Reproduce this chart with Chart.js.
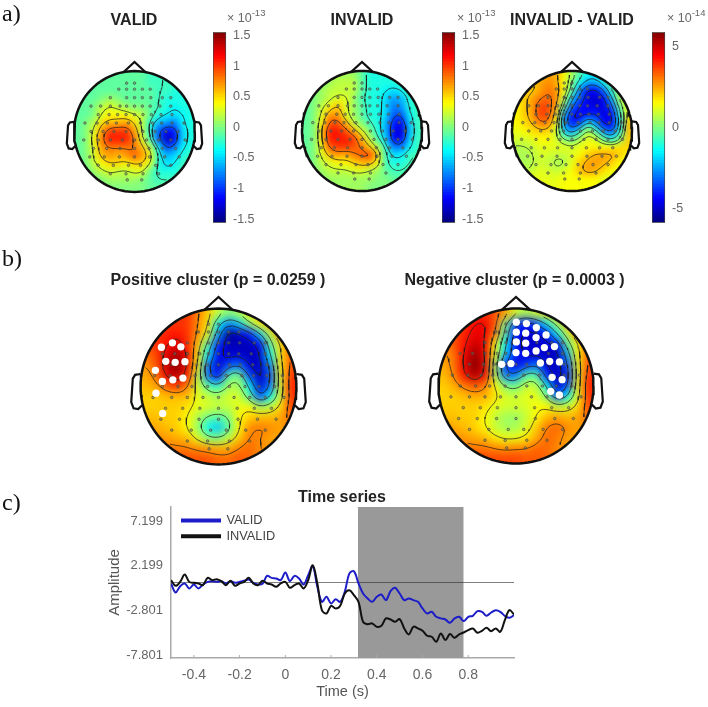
<!DOCTYPE html>
<html><head><meta charset="utf-8">
<script src="https://cdn.jsdelivr.net/npm/chart.js@4/dist/chart.umd.js"></script>
<style>
html,body{margin:0;padding:0;background:#fff;overflow:hidden}
#page{position:relative;width:708px;height:707px;font-family:"Liberation Sans",Arial,sans-serif;overflow:hidden;filter:blur(0.35px)}
.abs{position:absolute}
canvas{display:block}
.t{position:absolute;white-space:nowrap;font-weight:bold;color:#222;transform:translateX(-50%)}
.p{position:absolute;font-family:"Liberation Serif",serif;font-size:24px;color:#111}
.e{position:absolute;white-space:nowrap;font-size:12.5px;color:#666}
.e sup{font-size:9.5px;line-height:0;position:relative;top:-1px;vertical-align:super}
</style></head><body><div id="page"></div>
<script>
// ---- time series (amplitude at 0.02 s steps) ----
const timeStart=-0.5, timeStep=0.02;
const validSeries=[-0.11,-1.12,-0.41,-0.11,-0.67,-0.22,-0.67,-0.22,0.07,0.15,0.07,0.15,-0.11,0.15,-0.04,0.07,0.19,0.33,-0.04,-0.22,-0.15,0.74,0.52,0.45,0.26,1.12,0.15,0.74,0.45,-0.22,0.82,1.82,-0.48,-2.16,-1.60,-2.34,-1.86,-2.16,-1.04,1.00,1.26,-0.11,-1.23,-1.78,-2.16,-1.60,-1.34,-1.97,-0.97,-0.59,-1.23,-1.97,-1.78,-1.97,-2.16,-2.90,-3.46,-3.27,-3.83,-4.01,-4.13,-4.50,-4.01,-3.83,-4.31,-3.83,-3.72,-3.20,-3.27,-3.72,-3.35,-3.09,-3.27,-3.72,-3.94,-3.64];
const invalidSeries=[0.26,-0.37,0.07,0.89,0.07,-0.04,-0.11,-0.30,0.52,0.26,0.37,0.15,-0.30,0.19,-0.37,-0.11,0.07,0.52,-0.11,-0.30,0.19,-0.11,-0.22,-0.48,-0.11,0.07,-0.59,-0.30,-0.11,-0.67,0.26,1.93,-0.11,-3.09,-3.46,-2.60,-2.90,-2.60,-1.23,-0.86,-1.41,-2.16,-4.39,-4.65,-4.57,-4.94,-4.83,-4.01,-4.13,-4.39,-4.09,-5.13,-5.80,-4.94,-5.13,-5.39,-5.95,-6.06,-6.62,-5.69,-6.43,-5.76,-6.17,-5.80,-5.58,-5.32,-5.13,-5.61,-5.39,-5.06,-5.43,-5.13,-5.50,-4.20,-3.09,-3.57];
const xTicks=[-0.4,-0.2,0,0.2,0.4,0.6,0.8];
const yTicks=[-7.801,-2.801,2.199,7.199];
const shadeWindow=[0.317,0.78];
const seriesNames=['VALID','INVALID'];

// ---- topographies, 15 x 15 cells, head box -1..1 ----
const validGrid=[
[-1,-1,-1,-1,-1,-1,-1,-1,-1,-2,-2,-2,-2,-2,-2],
[-1,-1,-1,-1,-1,-1,-1,-1,-1,-2,-2,-2,-2,-2,-2],
[-1,-1,-1,-1,-1,-1,-1,-1,-1,-1,-2,-2,-3,-3,-3],
[-1,-1,-1,0,1,0,-1,-1,-1,-1,-2,-3,-3,-3,-3],
[-1,-1,0,2,3,2,1,0,0,-1,-2,-3,-4,-3,-3],
[-1,-1,0,3,4,4,4,3,2,-1,-3,-4,-5,-4,-3],
[-1,0,2,5,6,6,7,5,2,-3,-6,-7,-8,-4,-3],
[-1,0,3,7,10,10,10,7,2,-3,-9,-12,-11,-5,-3],
[-1,0,4,8,11,11,11,8,3,-2,-9,-14,-12,-5,-3],
[-1,0,3,7,8,8,8,8,6,2,-4,-10,-8,-4,-3],
[-1,0,3,6,7,6,7,9,7,4,-3,-6,-5,-3,-2],
[-1,0,2,4,5,5,4,5,5,3,-3,-5,-4,-2,-2],
[-1,-1,1,2,3,2,2,3,3,-1,-3,-3,-3,-2,-2],
[-1,-1,0,0,1,1,1,1,0,-1,-2,-2,-2,-2,-2],
[-1,-1,-1,0,0,0,0,0,0,-1,-1,-1,-1,-1,-1]];
const invalidGrid=[
[-1,-1,0,1,1,1,1,-1,-3,-3,-3,-3,-2,-2,-2],
[-1,-1,0,1,2,2,2,-1,-3,-3,-3,-3,-2,-2,-2],
[-1,0,1,2,2,2,2,-1,-3,-3,-4,-5,-4,-2,-2],
[-1,0,1,2,3,3,1,-2,-3,-3,-5,-7,-6,-3,-2],
[-1,0,2,4,6,3,1,-1,-3,-3,-5,-8,-7,-3,-2],
[-1,0,3,7,7,3,1,-1,-3,-3,-5,-9,-9,-4,-2],
[-1,0,4,9,9,6,2,0,-2,-3,-6,-11,-12,-5,-2],
[-1,0,5,11,11,9,6,3,0,-3,-6,-12,-13,-6,-2],
[-1,0,5,11,11,11,10,6,2,-2,-5,-12,-12,-5,-2],
[-1,0,4,9,10,10,9,8,5,2,-3,-8,-8,-4,-2],
[-1,0,3,6,7,6,8,9,10,5,-2,-5,-4,-2,-2],
[-1,0,2,3,4,4,5,6,6,4,-2,-3,-3,-2,-1],
[-1,0,1,2,2,2,3,3,2,1,-1,-2,-2,-1,-1],
[-1,0,0,1,1,1,1,1,1,0,0,-1,-1,-1,-1],
[-1,-1,0,0,1,1,1,1,0,0,0,0,-1,-1,-1]];
const differenceGrid=[
[20,20,20,20,25,25,15,5,-5,-15,-15,-5,5,5,5],
[20,20,20,25,28,25,15,0,-15,-25,-25,-15,0,5,5],
[20,20,20,25,30,28,15,-5,-28,-45,-45,-32,-10,5,10],
[15,20,25,30,33,28,8,-20,-35,-47,-50,-45,-22,5,15],
[15,20,25,36,36,25,-2,-32,-42,-45,-47,-47,-35,-5,15],
[15,20,25,36,36,20,-22,-42,-44,-42,-40,-48,-44,-12,15],
[15,18,22,30,30,15,-25,-42,-38,-15,-28,-45,-46,-18,22],
[12,15,18,20,20,10,-18,-28,-12,7,-8,-28,-36,-12,22],
[10,10,12,15,15,10,0,-5,5,12,10,-5,-14,0,20],
[6,6,8,12,12,12,12,10,12,15,15,15,15,18,20],
[5,5,6,10,10,8,8,10,15,20,24,25,25,20,15],
[5,5,6,9,8,5,5,12,20,25,26,24,20,15,12],
[6,6,8,12,10,8,10,14,22,26,24,18,15,12,12],
[10,10,12,12,12,12,14,14,14,15,15,12,10,10,8],
[10,10,12,12,12,12,14,14,14,14,14,10,8,8,8]];
const positiveGrid=[
[38,38,38,38,38,30,20,8,0,5,15,25,30,30,30],
[38,38,38,38,38,28,18,-15,-30,-20,0,15,25,30,30],
[38,38,40,42,38,28,12,-25,-58,-50,-42,-20,8,28,30],
[35,38,42,48,40,22,-5,-40,-52,-52,-52,-45,-5,18,30],
[30,36,46,54,44,18,-15,-45,-50,-48,-52,-50,-15,18,33],
[26,34,50,58,46,15,-30,-50,-35,-30,-48,-52,-28,15,35],
[24,30,46,52,40,8,-30,-45,-5,0,-35,-52,-35,12,38],
[22,25,32,38,30,10,-5,-10,5,5,-15,-50,-30,10,40],
[20,20,22,22,22,12,8,5,10,10,-5,-35,-15,10,38],
[20,20,20,20,18,12,10,8,8,12,15,5,8,18,36],
[22,22,20,20,15,6,-2,-5,0,15,20,22,22,25,32],
[26,24,22,20,15,3,-15,-22,-5,15,28,30,28,25,28],
[30,28,26,24,22,12,2,0,8,20,30,28,25,25,26],
[34,32,30,30,30,28,26,24,24,30,32,28,26,26,26],
[38,35,35,35,35,35,35,32,32,34,32,28,28,28,28]];
const negativeGrid=[
[30,32,34,36,38,35,25,10,5,10,18,25,30,30,30],
[30,34,38,44,46,34,0,-35,-42,-35,-15,5,25,30,30],
[30,34,40,46,46,30,-5,-42,-50,-48,-42,-15,8,28,30],
[28,34,42,50,46,15,-15,-42,-50,-50,-50,-45,-5,15,32],
[26,30,44,56,46,12,-20,-40,-48,-48,-50,-52,-25,15,33],
[24,30,46,60,48,5,-38,-48,-38,-30,-48,-52,-35,12,35],
[22,28,42,54,44,5,-30,-30,-5,-5,-40,-52,-40,10,38],
[20,24,30,34,30,15,0,-3,8,8,-15,-50,-35,12,40],
[20,20,22,24,24,18,10,8,12,12,0,-35,-15,12,38],
[20,20,20,20,18,12,10,10,10,14,15,8,10,18,36],
[22,22,20,20,15,8,4,3,8,15,22,25,22,25,32],
[26,24,22,20,15,8,4,4,10,20,30,32,28,25,28],
[30,28,26,24,22,16,12,12,16,24,32,30,25,25,26],
[34,32,30,30,30,28,26,28,28,32,32,28,26,26,26],
[38,36,36,36,36,36,36,36,34,34,32,28,28,28,28]];

// sensor rows: [y, x, x, ...]
const sensorRows=[
[.80,-.13,0],[.70,-.26,-.13,0,.13,.26],[.56,-.4,-.13,0,.13,.27,.46,.6],
[.42,-.72,-.56,-.4,-.24,-.13,0,.13,.26,.42,.6],[.28,-.6,-.42,-.28,-.14,0,.14,.28,.44,.62],
[.14,-.82,-.62,-.45,-.3,-.1,.1,.3,.45,.62,.82],[0,-.72,-.52,-.34,-.14,.14,.34,.52,.72],
[-.14,-.84,-.6,-.4,-.2,0,.2,.4,.6,.84],[-.28,-.68,-.46,-.24,0,.24,.46,.68],
[-.42,-.74,-.5,-.25,0,.25,.5,.74],[-.56,-.6,-.35,-.1,.1,.35,.6],[-.70,-.4,-.14,.14,.4],[-.8,-.12,.12]];
const positiveCluster=[[-.733,.504],[-.591,.560],[-.483,.509],[-.677,.323],[-.556,.310],[-.431,.319],[-.810,.207],[-.720,.065],[-.586,.086],[-.457,.108],[-.802,-.086],[-.716,-.345]];
const negativeCluster=[[.004,.823],[.134,.806],[.263,.754],[.004,.694],[.125,.681],[.259,.625],[.388,.659],[.004,.569],[.125,.552],[.366,.496],[.496,.509],[0,.431],[.125,.422],[.259,.453],[-.185,.280],[-.065,.289],[.315,.297],[.435,.319],[.560,.310],[.466,.112],[.595,.082],[.448,-.069],[.560,-.116]];
const noseOutline=[[-.18,.985],[0,1.15],[.18,.985]];
const earOutline=[[1.0,.16],[1.07,.15],[1.1,.1],[1.12,-.2],[1.09,-.28],[1.03,-.29],[.98,-.24]];

const page=document.getElementById('page');
const clamp=v=>Math.max(0,Math.min(1,v));
function jet(t){const c=f=>Math.round(255*clamp(f));
  return `rgb(${c(Math.min(4*t-1.5,-4*t+4.5))},${c(Math.min(4*t-.5,-4*t+3.5))},${c(Math.min(4*t+.5,-4*t+2.5))})`;}
function mk(left,top,w,h,parent){const c=document.createElement('canvas');c.width=w;c.height=h;
  c.style.cssText=`position:absolute;left:${left}px;top:${top}px;width:${w}px;height:${h}px`;(parent||page).appendChild(c);return c.getContext('2d');}
const base={animation:false,responsive:false,devicePixelRatio:1,events:[],layout:{autoPadding:false},plugins:{legend:{display:false},tooltip:{enabled:false},title:{display:false}}};
const hidden={type:'linear',min:-1.2,max:1.2,display:false};

function contourSegments(grid,levels){
  const k=3,n=grid.length,m=(n-1)*k+1;
  let f=[];
  for(let j=0;j<m;j++){f.push([]);for(let i=0;i<m;i++){
    const a=i/k,b=j/k,a0=Math.min(n-2,Math.floor(a)),b0=Math.min(n-2,Math.floor(b)),u=a-a0,v=b-b0;
    f[j].push((1-u)*(1-v)*grid[b0][a0]+u*(1-v)*grid[b0][a0+1]+(1-u)*v*grid[b0+1][a0]+u*v*grid[b0+1][a0+1]);}}
  for(let p=0;p<4;p++){const g=f.map(r=>r.slice());
    for(let j=0;j<m;j++)for(let i=0;i<m;i++){let s=0,w=0;
      for(let dj=-1;dj<=1;dj++)for(let di=-1;di<=1;di++){const jj=j+dj,ii=i+di;if(jj<0||ii<0||jj>=m||ii>=m)continue;
        const q=(2-Math.abs(di))*(2-Math.abs(dj));s+=q*f[jj][ii];w+=q;}
      g[j][i]=s/w;}
    f=g;}
  const X=i=>-1+(i/k+.5)*2/15,Y=j=>1-(j/k+.5)*2/15,out=[];
  for(const L of levels)for(let j=0;j<m-1;j++)for(let i=0;i<m-1;i++){
    const c=[f[j][i],f[j][i+1],f[j+1][i+1],f[j+1][i]],P=[[i,j],[i+1,j],[i+1,j+1],[i,j+1]],hits=[];
    for(let e=0;e<4;e++){const a=c[e],b=c[(e+1)%4];if((a<L)!==(b<L)){const t=(L-a)/(b-a),p=P[e],q=P[(e+1)%4];
      hits.push({x:X(p[0]+t*(q[0]-p[0])),y:Y(p[1]+t*(q[1]-p[1]))});}}
    for(let h=0;h+1<hits.length;h+=2){const A=hits[h],B=hits[h+1];
      if(A.x*A.x+A.y*A.y<.95&&B.x*B.x+B.y*B.y<.95)out.push(A,B,{x:NaN,y:NaN});}
  }
  return out;
}

function topo(o){
  const size=Math.round(2.4*o.r),left=o.cx-size/2,top=o.cy-size/2,cell=2*o.r/15;
  const wrap=document.createElement('div');wrap.className='abs';
  wrap.style.cssText=`position:absolute;left:${left}px;top:${top}px;width:${size}px;height:${size}px;clip-path:circle(${o.r}px at 50% 50%)`;
  page.appendChild(wrap);
  const cells=[];
  for(let j=-3;j<18;j++)for(let i=-3;i<18;i++){
    const jj=Math.max(0,Math.min(14,j)),ii=Math.max(0,Math.min(14,i));
    cells.push({x:-1+(i+.5)*2/15,y:1-(j+.5)*2/15,v:o.grid[jj][ii]});}
  const hctx=mk(0,0,size,size,wrap);
  hctx.canvas.style.filter=`blur(${(cell*.47).toFixed(1)}px)`;
  new Chart(hctx,{type:'scatter',data:{datasets:[{data:cells,clip:false,
    pointStyle:'rect',borderWidth:0,
    pointBorderWidth:0,
    pointRadius:c=>{const s=c.chart.scales.x;return (s.getPixelForValue(2/15)-s.getPixelForValue(0))*.76;},
    pointBackgroundColor:c=>jet(clamp((c.raw.v/o.clim+1)/2))}]},
    options:{...base,scales:{x:hidden,y:hidden}}});
  const circle=[];for(let a=0;a<=120;a++)circle.push({x:Math.cos(a*Math.PI/60),y:Math.sin(a*Math.PI/60)});
  const sensors=[];sensorRows.forEach(r=>r.slice(1).forEach(x=>sensors.push({x,y:r[0]})));
  const line=(pts,w)=>({data:pts,showLine:true,borderColor:'#111',borderWidth:w,pointRadius:0,tension:0,fill:false,clip:false});
  const ds=[];
  if(o.cluster)ds.push({data:o.cluster.map(p=>({x:p[0],y:p[1]})),pointRadius:o.r*.047,backgroundColor:'#fff',borderWidth:0});
  ds.push({data:sensors,pointRadius:1.3,backgroundColor:'rgba(110,120,90,.5)',borderColor:'#444',borderWidth:.6});
  ds.push({data:contourSegments(o.grid,o.levels),showLine:true,spanGaps:false,borderColor:'rgba(30,30,30,.8)',borderWidth:.9,pointRadius:0,tension:0});
  ds.push(line(circle,2.5));
  ds.push(line(noseOutline.map(p=>({x:p[0],y:p[1]})),2.2));
  ds.push(line(earOutline.map(p=>({x:p[0],y:p[1]})),2.2));
  ds.push(line(earOutline.map(p=>({x:-p[0],y:p[1]})),2.2));
  new Chart(mk(left,top,size,size),{type:'scatter',data:{datasets:ds},options:{...base,scales:{x:hidden,y:hidden}}});
}

function colorbar(o){
  const w=13,axis=36,ptop=12,levels=64,ds=[],h=o.bottom-o.top+2*ptop;
  for(let i=0;i<levels;i++){const lo=-o.lim+2*o.lim*i/levels,hi=-o.lim+2*o.lim*(i+1.05)/levels;
    ds.push({data:[[lo,Math.min(hi,o.lim)]],backgroundColor:jet((i+.5)/levels),borderWidth:0,barPercentage:1,categoryPercentage:1,grouped:false});}
  new Chart(mk(o.left,o.top-ptop,w+axis,h),{type:'bar',data:{labels:['c'],datasets:ds},
    options:{...base,layout:{padding:{top:ptop,bottom:ptop}},scales:{
      x:{display:false,grid:{display:false}},
      y:{type:'linear',position:'right',min:-o.lim,max:o.lim,grid:{display:false,drawTicks:false},border:{display:false},
        afterBuildTicks:s=>{s.ticks=o.ticks.map(value=>({value}));},
        afterFit:s=>{s.width=axis;},
        ticks:{padding:7,color:'#666',font:{family:'"Liberation Sans"',size:12.5},callback:v=>String(v),autoSkip:false,maxRotation:0}}}},
    plugins:[{id:'frame',afterDraw(c){const a=c.chartArea,g=c.ctx;g.save();g.strokeStyle='#444';g.lineWidth=.7;g.strokeRect(a.left+.3,a.top,a.right-a.left-.6,a.bottom-a.top);g.restore();}}]});
}
function text(cls,html,x,y,size){const d=document.createElement('div');d.className=cls;d.innerHTML=html;d.style.left=x+'px';d.style.top=y+'px';if(size)d.style.fontSize=size+'px';page.appendChild(d);}

const lv1=[-9,-4,-2,2.5,5,8], lv2=[-45,-30,-15,0,15,28,43];
topo({cx:134,cy:131,r:60.5,grid:validGrid,clim:15.5,levels:lv1});
topo({cx:362,cy:131,r:60,grid:invalidGrid,clim:15.5,levels:lv1});
topo({cx:572,cy:131,r:60,grid:differenceGrid,clim:58.4,levels:[-40,-30,-20,-10,0,7,22,30]});
topo({cx:218,cy:386,r:78,grid:positiveGrid,clim:58.4,levels:lv2,cluster:positiveCluster});
topo({cx:516,cy:386,r:77.5,grid:negativeGrid,clim:58.4,levels:lv2,cluster:negativeCluster});
colorbar({left:213,top:30,bottom:225,lim:1.555,ticks:[-1.5,-1,-.5,0,.5,1,1.5]});
colorbar({left:442,top:30,bottom:225,lim:1.555,ticks:[-1.5,-1,-.5,0,.5,1,1.5]});
colorbar({left:652,top:30,bottom:225,lim:5.84,ticks:[-5,0,5]});

text('t','VALID',134,11,16);text('t','INVALID',362,11,16);text('t','INVALID - VALID',572,11,16);
text('t','Positive cluster (p = 0.0259 )',218,271,16);text('t','Negative cluster (p = 0.0003 )',514.5,271,16);
text('e','× 10<sup>-13</sup>',227,11);text('e','× 10<sup>-13</sup>',457,11);text('e','× 10<sup>-14</sup>',667,11);
text('p','a)',2,0);text('p','b)',2,245);text('p','c)',2,489);
text('t','Time series',342,488,16);

// ---- time series chart ----
const times=validSeries.map((_,i)=>+(timeStart+i*timeStep).toFixed(2));
const toXY=s=>s.map((y,i)=>({x:times[i],y}));
const yLim=8.43;
new Chart(mk(100,485,420,222),{type:'scatter',data:{datasets:[
  {label:seriesNames[0],data:toXY(validSeries),showLine:true,borderColor:'#1c1cc8',backgroundColor:'#1c1cc8',borderWidth:2,pointRadius:0,tension:.35,order:2},
  {label:seriesNames[1],data:toXY(invalidSeries),showLine:true,borderColor:'#111',backgroundColor:'#111',borderWidth:2,pointRadius:0,tension:.35,order:1},
  {label:'baseline',data:[{x:-0.5,y:0},{x:1,y:0}],showLine:true,borderColor:'rgba(40,40,40,.75)',borderWidth:.8,pointRadius:0,order:3},
  {label:'window',data:shadeWindow.map(x=>({x,y:yLim})),showLine:true,borderWidth:0,borderColor:'#999',backgroundColor:'#999',fill:'start',pointRadius:0,order:4}]},
  options:{...base,layout:{autoPadding:false,padding:{top:22,right:6}},
   plugins:{...base.plugins,legend:{display:true,position:'chartArea',align:'start',
     labels:{filter:i=>seriesNames.includes(i.text),sort:(a,b)=>a.text.length-b.text.length,boxWidth:38,boxHeight:2,padding:3,color:'#444',font:{family:'"Liberation Sans"',size:12.8}}}},
   scales:{
    x:{type:'linear',min:-0.5,max:1,grid:{display:false,drawTicks:false},border:{color:'#aaa',width:1.5},
      afterBuildTicks:s=>{s.ticks=xTicks.map(value=>({value}));},
      afterFit:s=>{s.height=49;},
      title:{display:true,text:'Time (s)',color:'#555',font:{family:'"Liberation Sans"',size:14.5},padding:{top:2,bottom:6}},
      ticks:{padding:9,color:'#666',font:{family:'"Liberation Sans"',size:14},callback:v=>String(v),autoSkip:false,maxRotation:0}},
    y:{type:'linear',min:-yLim,max:yLim,grid:{display:false,drawTicks:false},border:{color:'#aaa',width:1.5},
      afterBuildTicks:s=>{s.ticks=yTicks.map(value=>({value}));},
      afterFit:s=>{s.width=71;},
      title:{display:true,text:'Amplitude',color:'#555',font:{family:'"Liberation Sans"',size:15},padding:{top:6,bottom:0}},
      ticks:{padding:8,labelOffset:3,color:'#666',font:{family:'"Liberation Sans"',size:13},callback:v=>v.toFixed(3),autoSkip:false,maxRotation:0}}}},
  plugins:[{id:'legendPos',afterLayout(c){c.legend.left=c.chartArea.left+8;c.legend.top=c.chartArea.top+4;}},
   {id:'innerTicks',afterDatasetsDraw(c){const s=c.scales.x,g=c.ctx,b=c.chartArea.bottom;g.save();g.strokeStyle='#aaa';g.lineWidth=1;
     s.ticks.forEach(t=>{const x=s.getPixelForValue(t.value);g.beginPath();g.moveTo(x,b);g.lineTo(x,b-3);g.stroke();});g.restore();}}]});
</script></body></html>
